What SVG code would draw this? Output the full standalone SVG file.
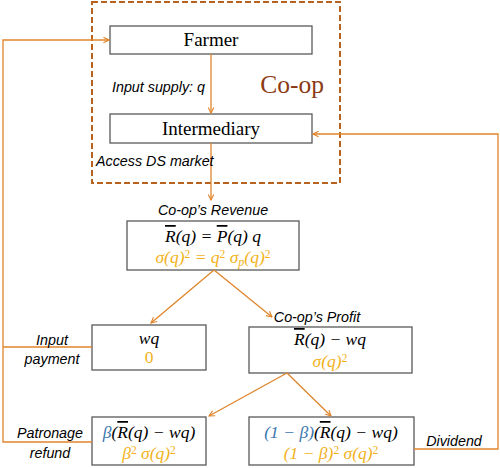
<svg xmlns="http://www.w3.org/2000/svg" width="500" height="468" viewBox="0 0 500 468">
<style>
.box{fill:#fff;stroke:#595959;stroke-width:1.3}
.ln{fill:none;stroke:#E0852B;stroke-width:1.3}
.serif{font-family:"Liberation Serif",serif;fill:#000}
.lbl{font-family:"Liberation Sans",Arial,sans-serif;font-style:italic;font-size:14.3px;fill:#000}
.m{font-family:"Liberation Serif",serif;font-style:italic;font-size:17.5px;fill:#000}
.y{fill:#F2B21B}
.b{fill:#3A77AE}
.ol{text-decoration:overline}
.sup{font-size:11.5px;font-style:normal}
</style>
<defs>
<marker id="ah" viewBox="0 0 10 10" refX="9" refY="5" markerWidth="7" markerHeight="7" orient="auto" markerUnits="userSpaceOnUse">
<path d="M1,1 L9,5 L1,9" fill="none" stroke="#E0852B" stroke-width="1.6"/>
</marker>
</defs>
<rect width="500" height="468" fill="#fff"/>
<g id="coop">
<rect x="92" y="2" width="248" height="181" fill="none" stroke="#B8621F" stroke-width="2" stroke-dasharray="6,3"/>
<text x="292" y="93" text-anchor="middle" class="serif" font-size="25.5" style="fill:#8B3A14">Co-op</text>
</g>
<g id="farmer">
<rect class="box" x="110" y="26" width="202" height="28"/>
<text x="211" y="46" text-anchor="middle" class="serif" font-size="19">Farmer</text>
</g>
<g id="intermediary">
<rect class="box" x="110" y="114" width="202" height="29"/>
<text x="211" y="135" text-anchor="middle" class="serif" font-size="19">Intermediary</text>
</g>
<g id="revenue">
<text x="213" y="215" text-anchor="middle" class="lbl">Co-op’s Revenue</text>
<rect class="box" x="127" y="221" width="172" height="49"/>
<text x="213" y="242" text-anchor="middle" class="m"><tspan class="ol">R</tspan>(q) = <tspan class="ol">P</tspan>(q) q</text>
<text x="213" y="263" text-anchor="middle" class="m y">σ(q)<tspan class="sup" dy="-5">2</tspan><tspan dy="5"> = q</tspan><tspan class="sup" dy="-5">2</tspan><tspan dy="5"> σ</tspan><tspan font-size="12" dy="3">p</tspan><tspan dy="-3">(q)</tspan><tspan class="sup" dy="-5">2</tspan></text>
</g>
<g id="wq">
<rect class="box" x="92" y="325" width="114" height="45"/>
<text x="149" y="344" text-anchor="middle" class="m">wq</text>
<text x="149" y="363" text-anchor="middle" class="m y" style="font-style:normal">0</text>
</g>
<g id="profit">
<text x="317" y="322" text-anchor="middle" class="lbl">Co-op’s Profit</text>
<rect class="box" x="249" y="327" width="163" height="46"/>
<text x="330" y="345" text-anchor="middle" class="m"><tspan class="ol">R</tspan>(q) − wq</text>
<text x="330" y="367" text-anchor="middle" class="m y">σ(q)<tspan class="sup" dy="-5">2</tspan></text>
</g>
<g id="patronage">
<rect class="box" x="92" y="417" width="114" height="48"/>
<text x="149" y="438" text-anchor="middle" class="m"><tspan class="b">β</tspan>(<tspan class="ol">R</tspan>(q) − wq)</text>
<text x="149" y="459" text-anchor="middle" class="m y">β<tspan class="sup" dy="-5">2</tspan><tspan dy="5"> σ(q)</tspan><tspan class="sup" dy="-5">2</tspan></text>
</g>
<g id="dividend">
<rect class="box" x="249" y="417" width="165" height="48"/>
<text x="331" y="438" text-anchor="middle" class="m"><tspan class="b">(1 − β)</tspan>(<tspan class="ol">R</tspan>(q) − wq)</text>
<text x="331" y="459" text-anchor="middle" class="m y">(1 − β)<tspan class="sup" dy="-5">2</tspan><tspan dy="5"> σ(q)</tspan><tspan class="sup" dy="-5">2</tspan></text>
</g>
<g id="connectors">
<line class="ln" x1="211" y1="54" x2="211" y2="113" marker-end="url(#ah)"/>
<line class="ln" x1="211" y1="143" x2="211" y2="200" marker-end="url(#ah)"/>
<line class="ln" x1="214" y1="270" x2="151" y2="323" marker-end="url(#ah)"/>
<line class="ln" x1="214" y1="270" x2="272" y2="317" marker-end="url(#ah)"/>
<line class="ln" x1="287" y1="373" x2="209" y2="416" marker-end="url(#ah)"/>
<line class="ln" x1="287" y1="373" x2="331" y2="416" marker-end="url(#ah)"/>
<polyline class="ln" points="92,442 3,442 3,40 109,40" marker-end="url(#ah)"/>
<line class="ln" x1="3" y1="347" x2="92" y2="347"/>
<polyline class="ln" points="414,449 498,449 498,134 313,134" marker-end="url(#ah)"/>
<text x="112" y="92" class="lbl">Input supply: q</text>
<text x="96" y="166" class="lbl">Access DS market</text>
<text x="52" y="345" text-anchor="middle" class="lbl">Input</text>
<text x="52" y="364" text-anchor="middle" class="lbl">payment</text>
<text x="50" y="438" text-anchor="middle" class="lbl">Patronage</text>
<text x="50" y="458" text-anchor="middle" class="lbl">refund</text>
<text x="454" y="446" text-anchor="middle" class="lbl">Dividend</text>
</g>
</svg>
